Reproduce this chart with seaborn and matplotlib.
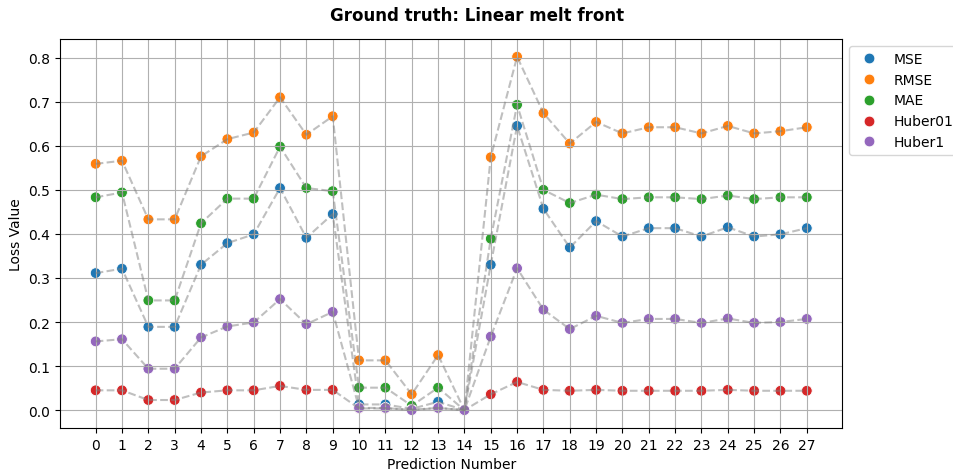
import matplotlib
matplotlib.use("Agg")
import matplotlib.pyplot as plt
import seaborn as sns
import pandas as pd

predictions = list(range(28))

mse = [0.311, 0.321, 0.189, 0.189, 0.330, 0.379, 0.399, 0.504, 0.391, 0.445,
       0.013, 0.013, 0.003, 0.019, 0.000, 0.330, 0.645, 0.457, 0.369, 0.429,
       0.394, 0.413, 0.413, 0.394, 0.415, 0.394, 0.399, 0.413]
rmse = [0.559, 0.566, 0.433, 0.433, 0.576, 0.615, 0.630, 0.710, 0.625, 0.667,
        0.113, 0.113, 0.036, 0.125, 0.000, 0.574, 0.802, 0.674, 0.605, 0.654,
        0.628, 0.642, 0.642, 0.628, 0.645, 0.628, 0.633, 0.642]
mae = [0.483, 0.494, 0.249, 0.249, 0.424, 0.480, 0.480, 0.598, 0.504, 0.497,
       0.051, 0.051, 0.010, 0.051, 0.000, 0.389, 0.693, 0.500, 0.470, 0.489,
       0.479, 0.483, 0.483, 0.479, 0.487, 0.479, 0.483, 0.483]
huber01 = [0.045, 0.045, 0.023, 0.023, 0.040, 0.045, 0.045, 0.055, 0.046, 0.046,
           0.004, 0.004, 0.001, 0.005, 0.000, 0.036, 0.064, 0.046, 0.044, 0.046,
           0.044, 0.044, 0.044, 0.044, 0.046, 0.044, 0.044, 0.044]
huber1 = [0.156, 0.161, 0.094, 0.094, 0.165, 0.190, 0.199, 0.252, 0.195, 0.223,
          0.005, 0.005, 0.000, 0.005, 0.000, 0.167, 0.322, 0.228, 0.184, 0.214,
          0.198, 0.207, 0.207, 0.198, 0.208, 0.198, 0.200, 0.207]

series = {"MSE": mse, "RMSE": rmse, "MAE": mae, "Huber01": huber01, "Huber1": huber1}

df = pd.concat(
    [pd.DataFrame({"Prediction Number": predictions, "Loss Value": vals, "Loss": name})
     for name, vals in series.items()],
    ignore_index=True,
)

plt.rcParams["font.family"] = ["DejaVu Sans"]
plt.rcParams["font.size"] = 10

fig, ax = plt.subplots(figsize=(9.54, 4.77), dpi=100)

# dashed grey connectors for each loss, then coloured points on top
sns.lineplot(data=df, x="Prediction Number", y="Loss Value", units="Loss",
             estimator=None, color="grey", linestyle="--", alpha=0.5,
             linewidth=1.5, ax=ax, legend=False)
sns.scatterplot(data=df, x="Prediction Number", y="Loss Value", hue="Loss",
                s=60, ax=ax)

ax.set_xticks(predictions)
ax.grid(True)
sns.move_legend(ax, "upper left", bbox_to_anchor=(1.0, 1.0), title=None)

fig.suptitle("Ground truth: Linear melt front", fontweight="bold", fontsize=12, y=0.985)
fig.subplots_adjust(left=0.063, right=0.883, top=0.916, bottom=0.101)
fig.savefig("out.png", dpi=100)
